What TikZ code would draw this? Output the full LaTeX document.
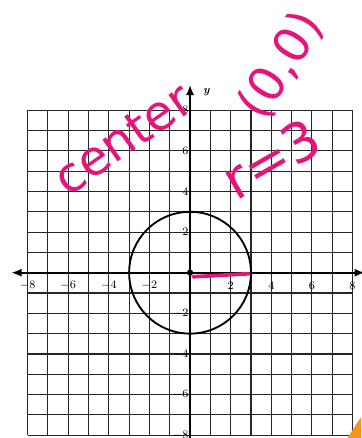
\documentclass[tikz,border=0pt]{standalone}
\usepackage{fontspec}
\newfontfamily\handfont{DejaVu Sans}
\usetikzlibrary{arrows.meta}
\definecolor{inkpink}{RGB}{228,20,122}
\definecolor{pencilorange}{RGB}{245,150,30}
\begin{document}
\begin{tikzpicture}[
  x=5mm, y=5mm,
  font=\footnotesize,
  gridline/.style={draw=black!85, line width=0.8pt},
  axisline/.style={draw=black, line width=1.3pt, -{Latex[length=2.5mm,width=2mm]}},
  ticklabel/.style={inner sep=1pt, font=\footnotesize},
  circ/.style={draw=black, line width=1.3pt},
  radius line/.style={draw=inkpink, line width=2.6pt, line cap=round},
  hand/.style={text=inkpink, font=\handfont\fontsize{34}{36}\selectfont, inner sep=0pt}]
\useasboundingbox (-9.36,-8.14) rectangle (8.42,13.43);
\draw[gridline, step=5mm] (-8,-8) grid (8,8);
\coordinate (O) at (0,0);
\coordinate (xl) at (-8.8,0);
\coordinate (xr) at (8.6,0);
\coordinate (yb) at (0,-8.14);
\coordinate (yt) at (0,9.25);
\coordinate (R0) at (0.15,-0.2);
\coordinate (R) at (2.9,-0.05);
\draw[axisline] (O) -- (xl);
\draw[axisline] (O) -- (xr);
\draw[axisline] (yb) -- (yt);
\node[ticklabel, font=\footnotesize\itshape\bfseries] (ylab) at (0.8,8.9) {y};
\foreach \k in {-8,-6,-4,-2,2,4,6,8} {
  \node[ticklabel] (xt\k) at (\k,-0.65) {$\k$};
  \node[ticklabel, anchor=east] (yt\k) at (0,\k) {$\k$};
}
\node[circ, circle, minimum size=30mm] (c) at (O) {};
\draw[radius line] (R0) -- (R);
\fill (O) circle (2.2pt);
\node[hand, rotate=35] (center) at (-3.3,6.6) {center};
\node[hand, rotate=58, font=\handfont\fontsize{34}{36}\selectfont] (cpt) at (4.5,10.2) {(0,0)};
\node[hand, rotate=30, font=\handfont\fontsize{38}{40}\selectfont] (rad) at (4.0,5.6) {r=3};
\fill[pencilorange] (7.75,-8.14) -- (8.42,-7.1) -- (8.42,-8.14) -- cycle;
\end{tikzpicture}
\end{document}
